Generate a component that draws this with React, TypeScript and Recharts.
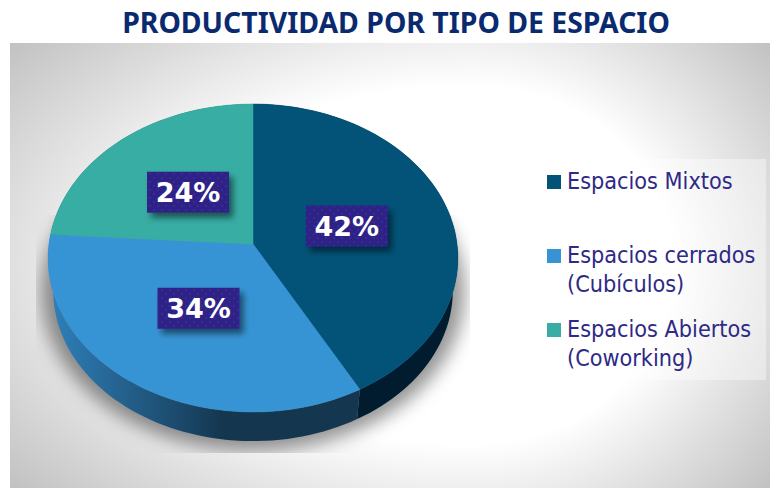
import { PieChart, Pie, Cell, Legend } from "recharts";

const TITLE = "PRODUCTIVIDAD POR TIPO DE ESPACIO";
const NAMES = ["Espacios Mixtos", "Espacios cerrados (Cubículos)", "Espacios Abiertos (Coworking)"];
const VALUES = [42, 34, 24];
const TOP_COLORS = ["#035379", "#3794d4", "#38ada4"];
const WALL_COLORS = ["#001c2e", "url(#wallBlue)", "#1c5f5a"];

const pieData = NAMES.map((name, i) => ({ name, value: VALUES[i] }));
const shadowData = [{ name: "shadow", value: VALUES.reduce((s, v) => s + v, 0) }];

// perspective look of the 3D pie
const TILT = -0.0909;
const SQUASH = 0.7485;
const WALL_DROP = 47; // apex to lower rim centre
const WALL_SCALE = 0.975;

function project(cx: number, cy: number, r: number, angle: number, frac = 1) {
  const rad = (angle * Math.PI) / 180;
  const u = Math.cos(rad) * frac;
  const v = -Math.sin(rad) * frac;
  const w = 1 + TILT * v;
  return { x: cx + (r * u) / w, y: cy + (SQUASH * r * v) / w };
}

function rimPoints(cx: number, cy: number, r: number, start: number, end: number) {
  const steps = Math.max(2, Math.ceil(Math.abs(end - start) / 2));
  const pts = [];
  for (let i = 0; i <= steps; i++) pts.push(project(cx, cy, r, start + ((end - start) * i) / steps));
  return pts;
}

const toPath = (pts: { x: number; y: number }[]) =>
  pts.map((p, i) => `${i ? "L" : "M"}${p.x.toFixed(1)},${p.y.toFixed(1)}`).join(" ") + " Z";

function lowerRim(cx: number, cy: number, pts: { x: number; y: number }[]) {
  const mid = cy + 14;
  return pts.map((p) => ({
    x: cx + (p.x - cx) * WALL_SCALE,
    y: cy + WALL_DROP + (p.y - mid) * WALL_SCALE,
  }));
}

function TopFace({ cx, cy, outerRadius, startAngle, endAngle, fill }: any) {
  const rim = rimPoints(cx, cy, outerRadius, startAngle, endAngle);
  return <path d={toPath([{ x: cx, y: cy }, ...rim])} fill={fill} stroke={fill} strokeWidth={0.5} />;
}

function Wall({ cx, cy, outerRadius, startAngle, endAngle, fill }: any) {
  const rim = rimPoints(cx, cy, outerRadius, startAngle, endAngle);
  return <path d={toPath([...rim, ...lowerRim(cx, cy, rim).reverse()])} fill={fill} />;
}

function GroundShadow({ cx, cy, outerRadius, startAngle, endAngle }: any) {
  const rim = rimPoints(cx, cy, outerRadius + 12, startAngle, endAngle);
  return <path d={toPath(lowerRim(cx, cy, rim))} fill="#000" fillOpacity={0.42} filter="url(#groundBlur)" />;
}

function PercentLabel({ cx, cy, outerRadius, midAngle, value }: any) {
  const p = project(cx, cy, outerRadius, midAngle, 0.48);
  return (
    <g>
      <rect x={p.x - 41} y={p.y - 20.5} width={82} height={41} fill="#2e2287" filter="url(#boxShadow)" />
      <rect x={p.x - 41} y={p.y - 20.5} width={82} height={41} fill="url(#dots)" />
      <text x={p.x} y={p.y + 10} textAnchor="middle" fontFamily="'DejaVu Sans'" fontWeight={700} fontSize={27} fill="#fff">
        {value}%
      </text>
    </g>
  );
}

function LegendBox() {
  return (
    <div style={{ position: "relative", width: 231, height: 221, background: "rgba(255,255,255,0.38)" }}>
      {NAMES.map((name, i) => (
        <div key={name} style={{ position: "absolute", left: 12, top: [8, 82, 156][i], display: "flex" }}>
          <span style={{ width: 14, height: 14, marginTop: 8, marginRight: 6, background: TOP_COLORS[i], flexShrink: 0 }} />
          <span style={{ width: 200, fontSize: 23.2, lineHeight: "28.5px", color: "#2e2a85" }}>{name}</span>
        </div>
      ))}
    </div>
  );
}

export default function App() {
  return (
    <div style={{ position: "absolute", left: 0, top: 0, width: 770, height: 488, background: "#fff", overflow: "hidden", fontFamily: "'DejaVu Sans Condensed', 'Noto Sans', sans-serif" }}>
      <div style={{ position: "absolute", left: 0, top: 3, width: 792, textAlign: "center", fontSize: 28.4, fontWeight: 700, color: "#0a2a70", fontFamily: "'Noto Sans', sans-serif", whiteSpace: "nowrap" }}>
        {TITLE}
      </div>
      {/* backdrop is off-centre, so it is two halves of one glow */}
      <div style={{ position: "absolute", left: 10, top: 43, width: 460, height: 445, background: "radial-gradient(ellipse 598px 345px at 460px 222px, #ffffff 52%, #c2c2c2 100%)" }} />
      <div style={{ position: "absolute", left: 470, top: 43, width: 300, height: 445, background: "radial-gradient(ellipse 391px 345px at 0px 222px, #ffffff 52%, #c2c2c2 100%)" }} />
      <div style={{ position: "absolute", left: 0, top: 0 }}>
        <PieChart width={770} height={488} margin={{ top: 0, right: 0, bottom: 0, left: 0 }}>
          <defs>
            <linearGradient id="wallBlue" gradientUnits="userSpaceOnUse" x1={50} y1={0} x2={225} y2={0}>
              <stop offset="0%" stopColor="#2f80ba" />
              <stop offset="100%" stopColor="#14364f" />
            </linearGradient>
            <filter id="groundBlur" filterUnits="userSpaceOnUse" x={36} y={215} width={434} height={238}>
              <feGaussianBlur stdDeviation={9} />
            </filter>
            <filter id="boxShadow" x="-20%" y="-30%" width="150%" height="170%">
              <feDropShadow dx={4} dy={5} stdDeviation={3} floodColor="#000" floodOpacity={0.5} />
            </filter>
            <pattern id="dots" width={8} height={8} patternUnits="userSpaceOnUse">
              <circle cx={2} cy={2} r={1} fill="#3f32a0" fillOpacity={0.7} />
              <circle cx={6} cy={6} r={1} fill="#3f32a0" fillOpacity={0.7} />
            </pattern>
          </defs>
          <Pie data={shadowData} dataKey="value" cx={253} cy={244} outerRadius={204} startAngle={90} endAngle={-270}
            shape={GroundShadow} legendType="none" isAnimationActive={false} />
          <Pie data={pieData} dataKey="value" cx={253} cy={244} outerRadius={204} startAngle={90} endAngle={-270}
            shape={Wall} legendType="none" isAnimationActive={false}>
            {WALL_COLORS.map((c) => <Cell key={c} fill={c} />)}
          </Pie>
          <Pie data={pieData} dataKey="value" nameKey="name" cx={253} cy={244} outerRadius={204} startAngle={90} endAngle={-270}
            shape={TopFace} label={PercentLabel} labelLine={false} isAnimationActive={false}>
            {TOP_COLORS.map((c) => <Cell key={c} fill={c} />)}
          </Pie>
          <Legend content={<LegendBox />} wrapperStyle={{ position: "absolute", left: 535, top: 159, width: 231, height: 221 }} />
        </PieChart>
      </div>
    </div>
  );
}
